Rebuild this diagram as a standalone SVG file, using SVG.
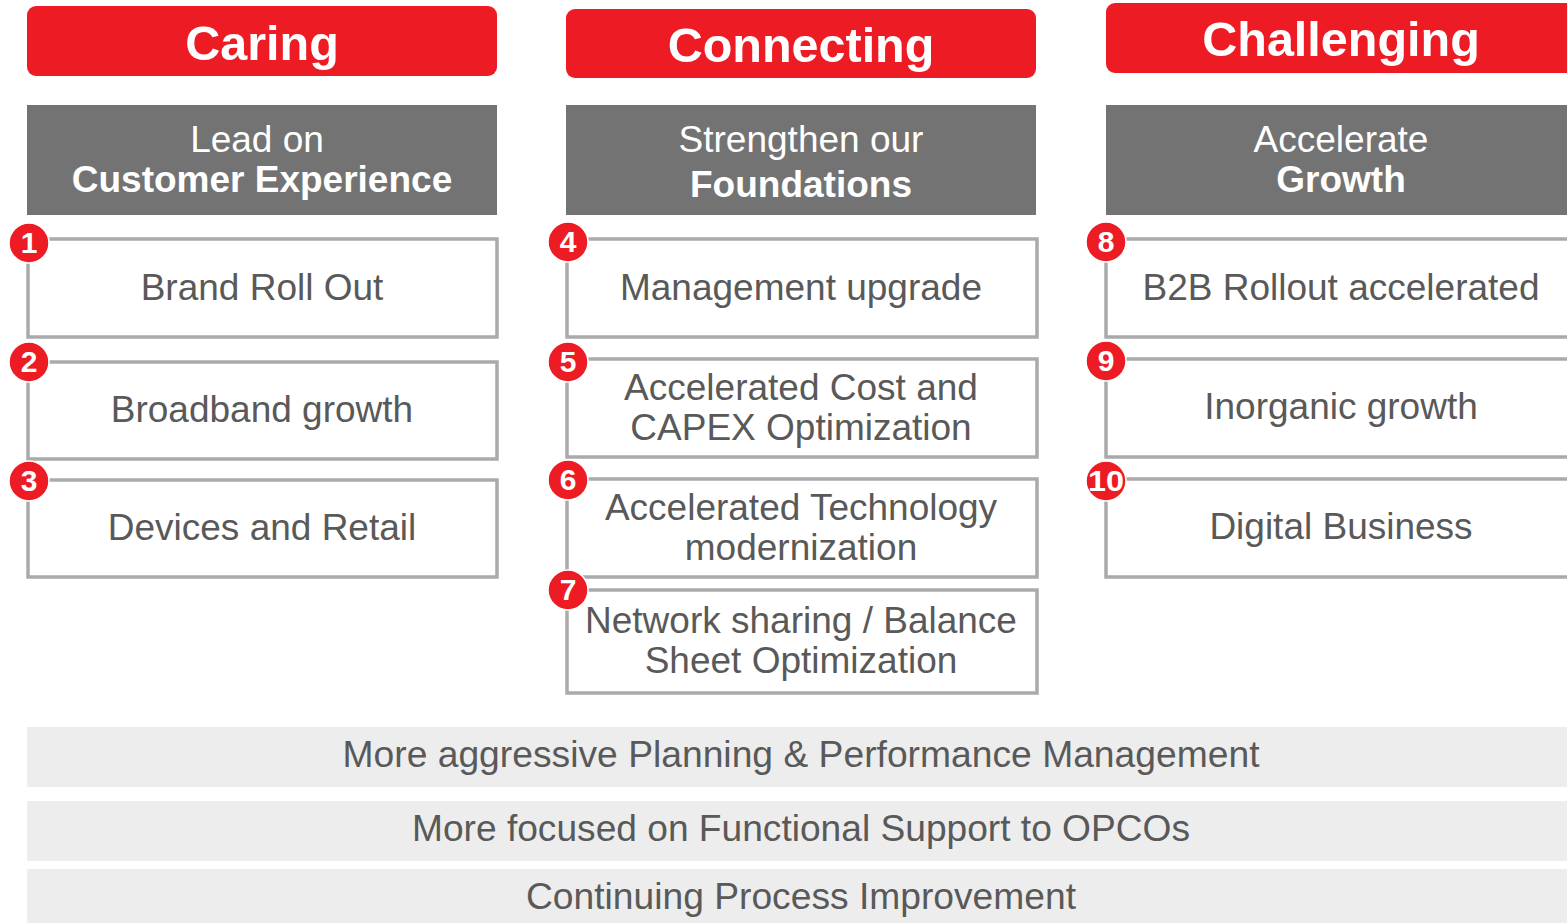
<svg xmlns="http://www.w3.org/2000/svg" width="1567" height="923" viewBox="0 0 1567 923">
<style>
.title{fill:#ed1c24}
.tt{font-family:"Liberation Sans",Arial,sans-serif;font-weight:bold;font-size:48.5px;fill:#fff;text-anchor:middle}
.hdr{fill:#737373}
.ht{font-family:"Liberation Sans",Arial,sans-serif;font-size:37px;fill:#fff;text-anchor:middle}
.hb{font-weight:bold}
.box{fill:#fff;stroke:#aaaaaa;stroke-width:3.5}
.bt{font-family:"Liberation Sans",Arial,sans-serif;font-size:37px;fill:#595959;text-anchor:middle}
.badge{fill:#ed1c24;stroke:#fff;stroke-width:1.5}
.bn{font-family:"Liberation Sans",Arial,sans-serif;font-weight:bold;font-size:30px;fill:#fff;text-anchor:middle}
.bar{fill:#ededed}
.bar-t{font-family:"Liberation Sans",Arial,sans-serif;font-size:36px;fill:#595959;text-anchor:middle}
</style>
<rect width="1567" height="923" fill="#fff"/>
<g id="caring">
<rect class="title" x="27" y="6" width="470" height="70" rx="9"/>
<text class="tt" x="262" y="60">Caring</text>
<rect class="hdr" x="27" y="105" width="470" height="110"/>
<text class="ht" x="257" y="152">Lead on</text>
<text class="ht hb" x="262" y="192">Customer Experience</text>
</g>
<g id="connecting">
<rect class="title" x="566" y="9" width="470" height="69" rx="9"/>
<text class="tt" x="801" y="62">Connecting</text>
<rect class="hdr" x="566" y="105" width="470" height="110"/>
<text class="ht" x="801" y="152">Strengthen our</text>
<text class="ht hb" x="801" y="197">Foundations</text>
</g>
<g id="challenging">
<rect class="title" x="1106" y="3" width="480" height="70" rx="9"/>
<text class="tt" x="1341" y="56">Challenging</text>
<rect class="hdr" x="1106" y="105" width="480" height="110"/>
<text class="ht" x="1341" y="152">Accelerate</text>
<text class="ht hb" x="1341" y="192">Growth</text>
</g>
<g id="node1">
<rect class="box" x="28" y="239" width="469" height="98"/>
<text class="bt" x="262" y="300">Brand Roll Out</text>
<circle class="badge" cx="29" cy="243" r="20"/><text class="bn" x="29" y="253">1</text>
</g>
<g id="node2">
<rect class="box" x="28" y="362" width="469" height="97"/>
<text class="bt" x="262" y="422">Broadband growth</text>
<circle class="badge" cx="29" cy="362" r="20"/><text class="bn" x="29" y="372">2</text>
</g>
<g id="node3">
<rect class="box" x="28" y="480" width="469" height="97"/>
<text class="bt" x="262" y="540">Devices and Retail</text>
<circle class="badge" cx="29" cy="481" r="20"/><text class="bn" x="29" y="491">3</text>
</g>
<g id="node4">
<rect class="box" x="567" y="239" width="470" height="98"/>
<text class="bt" x="801" y="300">Management upgrade</text>
<circle class="badge" cx="568" cy="242" r="20"/><text class="bn" x="568" y="252">4</text>
</g>
<g id="node5">
<rect class="box" x="567" y="359" width="470" height="98"/>
<text class="bt" x="801" y="400">Accelerated Cost and</text>
<text class="bt" x="801" y="440">CAPEX Optimization</text>
<circle class="badge" cx="568" cy="362" r="20"/><text class="bn" x="568" y="372">5</text>
</g>
<g id="node6">
<rect class="box" x="567" y="479" width="470" height="98"/>
<text class="bt" x="801" y="520">Accelerated Technology</text>
<text class="bt" x="801" y="560">modernization</text>
<circle class="badge" cx="568" cy="480" r="20"/><text class="bn" x="568" y="490">6</text>
</g>
<g id="node7">
<rect class="box" x="567" y="590" width="470" height="103"/>
<text class="bt" x="801" y="633">Network sharing / Balance</text>
<text class="bt" x="801" y="673">Sheet Optimization</text>
<circle class="badge" cx="568" cy="590" r="20"/><text class="bn" x="568" y="600">7</text>
</g>
<g id="node8">
<rect class="box" x="1106" y="239" width="480" height="98"/>
<text class="bt" x="1341" y="300">B2B Rollout accelerated</text>
<circle class="badge" cx="1106" cy="242" r="20"/><text class="bn" x="1106" y="252">8</text>
</g>
<g id="node9">
<rect class="box" x="1106" y="359" width="480" height="98"/>
<text class="bt" x="1341" y="419">Inorganic growth</text>
<circle class="badge" cx="1106" cy="361" r="20"/><text class="bn" x="1106" y="371">9</text>
</g>
<g id="node10">
<rect class="box" x="1106" y="479" width="480" height="98"/>
<text class="bt" x="1341" y="539">Digital Business</text>
<circle class="badge" cx="1106" cy="481" r="20"/><text class="bn" x="1106" y="491" textLength="36" lengthAdjust="spacingAndGlyphs">10</text>
</g>
<g id="bar1">
<rect class="bar" x="27" y="727" width="1540" height="60"/>
<text class="bar-t" x="801" y="767" textLength="917" lengthAdjust="spacingAndGlyphs">More aggressive Planning &amp; Performance Management</text>
</g>
<g id="bar2">
<rect class="bar" x="27" y="801" width="1540" height="60"/>
<text class="bar-t" x="801" y="841" textLength="778" lengthAdjust="spacingAndGlyphs">More focused on Functional Support to OPCOs</text>
</g>
<g id="bar3">
<rect class="bar" x="27" y="869" width="1540" height="60"/>
<text class="bar-t" x="801" y="909" textLength="550" lengthAdjust="spacingAndGlyphs">Continuing Process Improvement</text>
</g>
<g id="connectors"/>
</svg>
